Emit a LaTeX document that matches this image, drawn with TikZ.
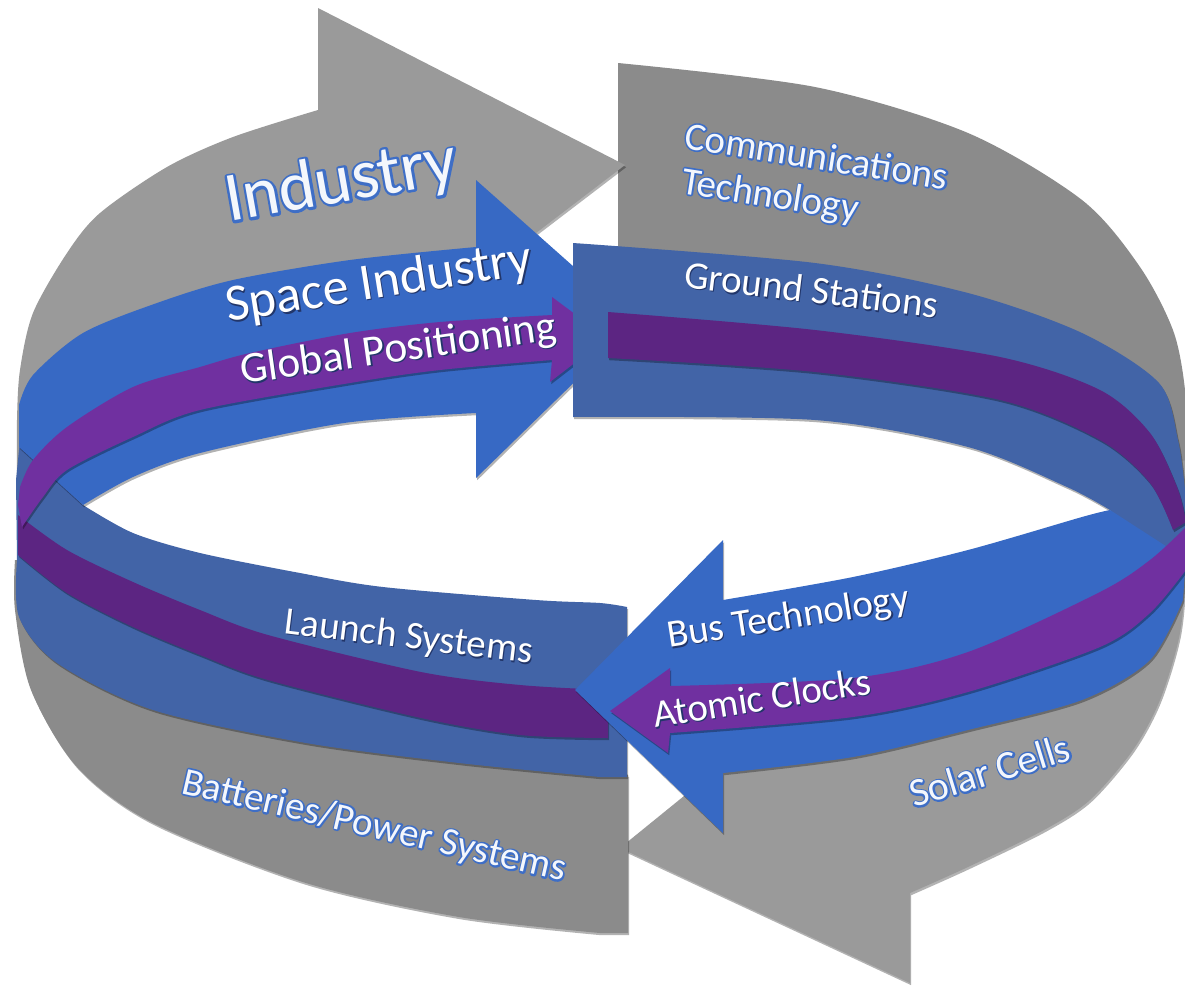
\documentclass[tikz,border=0pt]{standalone}
\usepackage{fontspec}
\setmainfont{Carlito}
\usetikzlibrary{shadows}
\definecolor{grayL}{HTML}{9A9A9A}
\definecolor{grayD}{HTML}{8B8B8B}
\definecolor{blueL}{HTML}{3769C4}
\definecolor{blueD}{HTML}{4264A7}
\definecolor{purL}{HTML}{7030A0}
\definecolor{purD}{HTML}{5C2582}
\definecolor{txtwhite}{HTML}{F4F7FC}
\definecolor{shadowblue}{HTML}{22366A}
% white letters with a blue outline: a stroked copy (PDF render mode 1) under the filled text
\newcommand\outl[2][3.4]{\rlap{\special{pdf:literal direct 0.243 0.431 0.776 RG #1 w 1 j 1 Tr}#2\special{pdf:literal direct 0 Tr}}#2}
% white letters with a small dark shadow
\newcommand\shd[1]{\rlap{\hspace*{1.3pt}\raisebox{-1.4pt}{\textcolor{shadowblue}{#1}}}#1}
\tikzset{
  lbl/.style={inner sep=0pt, anchor=base west, text=white, font=\fontsize{39}{42}\selectfont},
  glowlbl/.style={lbl, text=txtwhite},
  sh/.style={drop shadow={shadow xshift=1.2pt, shadow yshift=-2.2pt, opacity=.3, fill=black}}
}
\begin{document}
\begin{tikzpicture}[x=1pt,y=-1pt]
\useasboundingbox (0,0) rectangle (1185,991);
\fill[white] (0,0) rectangle (1185,991);
% gray right-top block
\fill[grayD] (618,400) -- (618,63) -- plot[smooth] coordinates {(618,63) (815,87) (968,133) (1082,200) (1140,267) (1174,333) (1186,400) (1186,470)} -- (1150,470) -- (1082,460) -- (968,430) -- (815,400) -- cycle;
% Industry arrow
\fill[grayL, sh] (318,8) -- (625,165) -- (536,233) -- (476,300) -- (250,330) -- (100,400) -- (40,450) -- (17,480) -- plot[smooth] coordinates {(17,480) (17,420) (20,370) (33,313) (67,253) (100,213) (167,167) (233,137) (318,110)} -- cycle;
% Solar arrow
\fill[grayL, sh] plot[smooth] coordinates {(1186,460) (1186,560) (1180,633) (1160,700) (1133,750) (1090,800) (1044,830) (968,867) (910,893)} -- (910,983) -- (620,848) -- (700,783) -- (723,768) -- (853,740) -- (968,710) -- (1082,670) -- (1150,600) -- (1150,470) -- cycle;
% Batteries block
\fill[grayD, sh] (628,775) -- (628,933) -- plot[smooth] coordinates {(600,933) (459,917) (306,883) (153,823) (77,767) (31,690) (15,610) (15,560)} -- (40,560) -- (200,650) -- (400,720) -- (600,760) -- cycle;
% Launch block
\fill[blueD, sh] plot[smooth] coordinates {(627,607) (600,603) (536,600) (383,587) (300,573) (200,553) (133,533) (83,505)} -- (20,440) -- (16,480) -- plot[smooth] coordinates {(17,560) (19,617) (57,663) (153,710) (306,743) (459,763) (600,777)} -- (627,777) -- cycle;
% dark purple lower
\fill[purD, sh] plot[smooth] coordinates {(18,515) (67,550) (133,582) (200,610) (268,635) (421,672) (520,685) (608,690)} -- plot[smooth] coordinates {(608,738) (520,735) (421,718) (268,680) (200,655) (133,627) (67,593) (18,555)} -- cycle;
% Space Industry arrow
\fill[blueL, sh] plot[smooth] coordinates {(19,405) (33,375) (83,333) (157,303) (233,280) (350,260) (476,247)} -- (476,180) -- (636,322) -- (476,478) -- plot[smooth] coordinates {(476,413) (344,423) (200,453) (133,477) (83,505)} -- (19,447) -- cycle;
% Global Positioning arrow
\fill[purL, sh] (552,297) -- (607,338) -- (550,382) -- plot[smooth] coordinates {(552,360) (440,370) (350,383) (200,410) (133,437) (67,470) (43,497) (22,527)} -- (18,505) -- plot[smooth] coordinates {(20,487) (33,460) (67,427) (133,387) (200,367) (250,353) (350,333) (440,322) (552,315)} -- cycle;
% Ground Stations block
\fill[blueD, sh] plot[smooth] coordinates {(573,243) (815,263) (968,293) (1082,333) (1159,383) (1178,440) (1185,490)} -- (1185,530) -- (1170,560) -- plot[smooth] coordinates {(1110,510) (1067,487) (968,447) (815,420) (573,417)} -- cycle;
% dark purple upper
\fill[purD, sh] plot[smooth] coordinates {(608,312) (815,330) (1000,357) (1100,390) (1150,433) (1177,487) (1186,522)} -- plot[smooth] coordinates {(1173,530) (1150,483) (1100,440) (1000,400) (815,372) (608,358)} -- cycle;
% Bus Technology arrow
\fill[blueL, sh] (723,540) -- (575,690) -- (723,833) -- plot[smooth] coordinates {(723,773) (853,757) (968,730) (1082,700) (1150,660) (1183,600)} -- (1186,555) -- (1175,552) -- plot[smooth] coordinates {(1110,510) (1082,517) (968,550) (853,577) (723,600)} -- cycle;
% Atomic Clocks arrow
\fill[purL, sh] (670,668) -- (610,711) -- (668,753) -- plot[smooth] coordinates {(670,733) (853,717) (968,692) (1100,647) (1150,613) (1186,570)} -- plot[smooth] coordinates {(1186,527) (1150,560) (1100,592) (968,652) (853,678) (670,686)} -- cycle;
% labels
\node[glowlbl, font=\fontsize{70}{76}\selectfont, rotate=10] (industry) at (229,222) {\outl[5]{Industry}};
\node[lbl, font=\fontsize{52}{56}\selectfont, rotate=9] (spaceind) at (228,322) {\shd{Space Industry}};
\node[lbl, font=\fontsize{43.5}{47}\selectfont, rotate=8] (gps) at (242,384) {\shd{Global Positioning}};
\node[glowlbl, rotate=-9] (comm) at (683,148) {\outl{Communications}};
\node[glowlbl, rotate=-9] (tech) at (680,193) {\outl{Technology}};
\node[lbl, rotate=-7] (ground) at (683,287) {\shd{Ground Stations}};
\node[lbl, rotate=-7] (launch) at (283,633) {\shd{Launch Systems}};
\node[glowlbl, rotate=-13] (batt) at (180,793) {\outl{Batteries/Power Systems}};
\node[lbl, rotate=9] (bus) at (669,648) {\shd{Bus Technology}};
\node[lbl, rotate=9] (atomic) at (655,728) {\shd{Atomic Clocks}};
\node[glowlbl, font=\fontsize{40}{43}\selectfont, rotate=17] (solar) at (914,808) {\outl{Solar Cells}};
\end{tikzpicture}
\end{document}
